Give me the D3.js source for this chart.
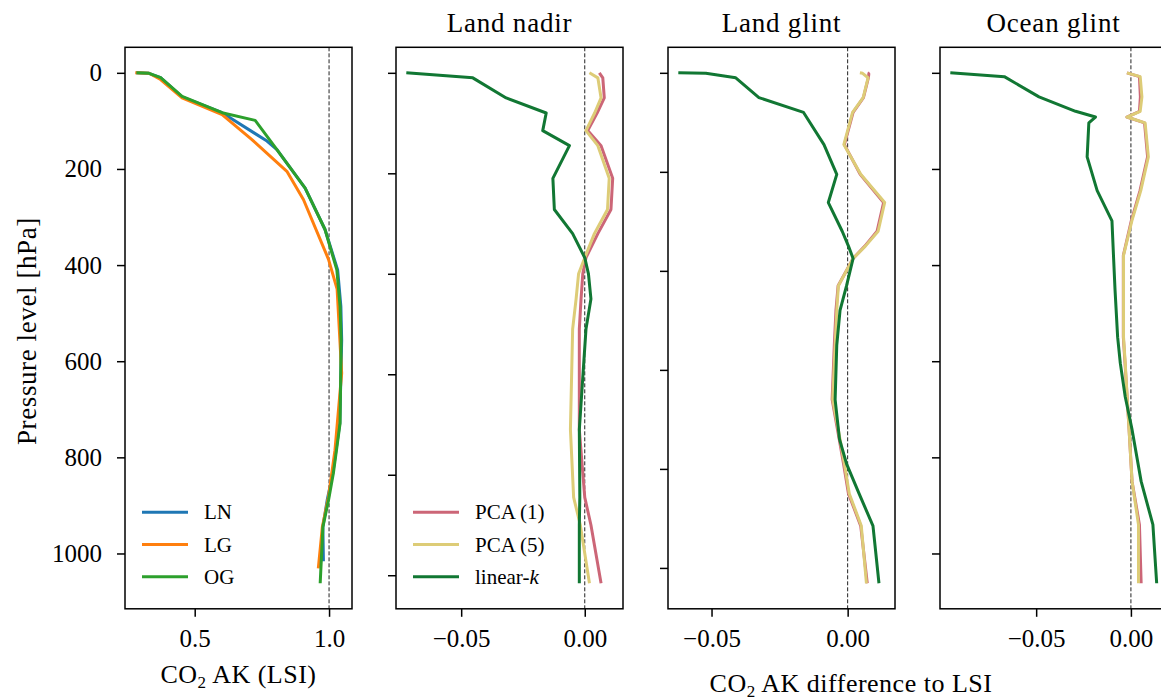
<!DOCTYPE html>
<html>
<head>
<meta charset="utf-8">
<title>CO2 averaging kernels</title>
<script src="https://d3js.org/d3.v7.min.js"></script>
<style>
  body { margin: 0; background: #fff; }
  svg text { font-family: "Liberation Serif", "DejaVu Serif", serif; fill: #000; }
</style>
</head>
<body>
<div id="chart"></div>
<script>
// ---- data ----
const pressureTicks = [0, 200, 400, 600, 800, 1000];
const akTicks = [0.5, 1.0];
const diffTicks = [-0.05, 0.00];
const panelTitles = ["Land nadir", "Land glint", "Ocean glint"];
const akNames = ["LN", "LG", "OG"];
const diffNames = ["PCA (1)", "PCA (5)", "linear-k"];

// surface pressure for each mode (hPa)
const surfaceLN = 1016, surfaceLG = 1031, surfaceOG = 1062;

// left panel: CO2 AK of the LSI reference
const akLevelsLN = [0, 1, 10, 50, 83, 142, 160, 240, 326, 410, 486, 556, 729, 833, 889, 945, 1016];
const akLN       = [0.281, 0.330, 0.373, 0.453, 0.602, 0.769, 0.806, 0.911, 0.985, 1.032, 1.044, 1.047, 1.040, 1.014, 0.993, 0.977, 0.979];
const akLevelsLG = [0, 1, 14, 52, 87, 139, 205, 264, 388, 450, 625, 785, 882, 945, 1031];
const akLG       = [0.279, 0.330, 0.373, 0.453, 0.602, 0.713, 0.843, 0.905, 0.998, 1.030, 1.047, 1.022, 0.998, 0.975, 0.960];
const akLevelsOG = [0, 1, 10, 49, 83, 99, 160, 240, 326, 410, 486, 556, 729, 833, 889, 945, 1062];
const akOG       = [0.283, 0.330, 0.373, 0.453, 0.602, 0.725, 0.806, 0.911, 0.985, 1.029, 1.041, 1.045, 1.041, 1.016, 0.998, 0.977, 0.967];

// difference to LSI, Land nadir
const levelsLN = [0, 10, 50, 80, 115, 145, 210, 272, 320, 368, 400, 450, 510, 710, 845, 900, 1016];
const pca1LN = [0.0059, 0.0073, 0.0079, 0.0050, 0.0012, 0.0066, 0.0113, 0.0106, 0.0053, 0.0005, -0.0008, -0.0015, -0.0022, -0.0022, 0.0000, 0.0025, 0.0066];
const pca5LN = [0.0019, 0.0053, 0.0066, 0.0040, 0.0005, 0.0053, 0.0099, 0.0092, 0.0039, 0.0000, -0.0025, -0.0035, -0.0049, -0.0058, -0.0045, -0.0018, 0.0019];
const linkLN = [-0.0722, -0.0453, -0.0318, -0.0156, -0.0170, -0.0062, -0.0129, -0.0123, -0.0049, 0.0000, 0.0015, 0.0025, 0.0005, -0.0022, -0.0020, -0.0022, -0.0022];

// Land glint
const levelsLG = [0, 1, 10, 50, 80, 145, 205, 262, 320, 350, 375, 430, 480, 550, 660, 740, 790, 850, 915, 1031];
const pca1LG = [0.0081, 0.0078, 0.0076, 0.0058, 0.0020, -0.0012, 0.0046, 0.0132, 0.0108, 0.0063, 0.0020, -0.0035, -0.0043, -0.0049, -0.0057, -0.0031, -0.0015, 0.0003, 0.0048, 0.0072];
const pca5LG = [0.0045, 0.0055, 0.0075, 0.0057, 0.0018, -0.0014, 0.0048, 0.0136, 0.0112, 0.0065, 0.0020, -0.0034, -0.0040, -0.0046, -0.0055, -0.0028, -0.0012, 0.0006, 0.0050, 0.0069];
const linkLG = [-0.0622, -0.0521, -0.0411, -0.0326, -0.0162, -0.0087, -0.0040, -0.0071, -0.0020, 0.0003, 0.0020, -0.0004, -0.0028, -0.0040, -0.0046, -0.0030, -0.0004, 0.0042, 0.0093, 0.0115];

// Ocean glint
const levelsOG = [0, 8, 50, 80, 92, 104, 175, 245, 308, 380, 450, 550, 604, 674, 740, 850, 940, 1062];
const pca1OG = [-0.0021, 0.0045, 0.0050, 0.0045, -0.0021, 0.0072, 0.0088, 0.0048, 0.0002, -0.0040, -0.0040, -0.0040, -0.0031, -0.0020, -0.0010, 0.0006, 0.0045, 0.0054];
const pca5OG = [-0.0021, 0.0049, 0.0058, 0.0049, -0.0021, 0.0075, 0.0092, 0.0052, 0.0005, -0.0039, -0.0039, -0.0039, -0.0030, -0.0020, -0.0010, 0.0006, 0.0040, 0.0040];
const linkOG = [-0.0953, -0.0668, -0.0485, -0.0292, -0.0187, -0.0222, -0.0231, -0.0178, -0.0100, -0.0092, -0.0084, -0.0070, -0.0056, -0.0030, 0.0005, 0.0054, 0.0116, 0.0136];

// ---- layout ----
const W = 1161, H = 700;
const frameTop = 47.3, frameBottom = 608.8, pw = 227;
const lefts = [125, 396, 668, 940];
const akColors = ["#1f77b4", "#ff7f0e", "#2ca02c"];
const diffColors = ["#cc6677", "#ddcc77", "#117733"];
const lw = 3;

const svg = d3.select("#chart").append("svg")
  .attr("width", W).attr("height", H)
  .style("display", "block");

function zip(levels, vals) {
  return levels.map((p, i) => [p, vals[i]]);
}

// matplotlib-like 5% margins
function padded(lo, hi) {
  const m = (hi - lo) * 0.05;
  return [lo - m, hi + m];
}

function drawPanel(i, series, colors, xTicks, xFmt, surface, refX, showYLabels) {
  const left = lefts[i];
  const g = svg.append("g");
  const all = series.flatMap(s => s.map(d => d[1]));
  const x = d3.scaleLinear().domain(padded(d3.min(all), d3.max(all))).range([left, left + pw]);
  const y = d3.scaleLinear().domain(padded(0, surface)).range([frameTop, frameBottom]);

  // dashed reference
  g.append("line")
    .attr("x1", x(refX)).attr("x2", x(refX))
    .attr("y1", frameTop).attr("y2", frameBottom)
    .attr("stroke", "#222").attr("stroke-width", 1)
    .attr("stroke-dasharray", "4,2");

  const line = d3.line().x(d => x(d[1])).y(d => y(d[0]));
  series.forEach((s, k) => {
    g.append("path").datum(s)
      .attr("d", line)
      .attr("fill", "none")
      .attr("stroke", colors[k])
      .attr("stroke-width", lw)
      .attr("stroke-linejoin", "round");
  });

  // axes
  const yAxis = d3.axisLeft(y).tickValues(pressureTicks).tickSize(8).tickPadding(15)
    .tickFormat(showYLabels ? d3.format("d") : "");
  const ya = g.append("g").attr("transform", "translate(" + left + ",0)").call(yAxis);
  const xAxis = d3.axisBottom(x).tickValues(xTicks).tickSize(8).tickPadding(12).tickFormat(d3.format(xFmt));
  const xa = g.append("g").attr("transform", "translate(0," + frameBottom + ")").call(xAxis);
  [ya, xa].forEach(a => {
    a.select(".domain").remove();
    a.selectAll(".tick line").attr("stroke", "#000").attr("stroke-width", 1.5);
    a.selectAll(".tick text").style("font-size", "25px").attr("fill", "#000");
  });

  // frame
  g.append("rect")
    .attr("x", left).attr("y", frameTop)
    .attr("width", pw).attr("height", frameBottom - frameTop)
    .attr("fill", "none").attr("stroke", "#000").attr("stroke-width", 1.5);

  return g;
}

function legend(g, i, names, colors) {
  const left = lefts[i];
  names.forEach((n, k) => {
    const ly = 512.3 + k * 32.2;
    g.append("line")
      .attr("x1", left + 17).attr("x2", left + 63)
      .attr("y1", ly).attr("y2", ly)
      .attr("stroke", colors[k]).attr("stroke-width", lw);
    const t = g.append("text")
      .attr("x", left + 79).attr("y", ly + 7)
      .style("font-size", "21px");
    if (n === "linear-k") {
      t.append("tspan").text("linear-");
      t.append("tspan").style("font-style", "italic").text("k");
    } else {
      t.text(n);
    }
  });
}

// panel 1: AK
const g0 = drawPanel(0,
  [zip(akLevelsLN, akLN), zip(akLevelsLG, akLG), zip(akLevelsOG, akOG)],
  akColors, akTicks, ".1f", Math.max(surfaceLN, surfaceLG, surfaceOG), 1.0, true);
legend(g0, 0, akNames, akColors);

// difference panels
const diffData = [
  [levelsLN, pca1LN, pca5LN, linkLN, surfaceLN],
  [levelsLG, pca1LG, pca5LG, linkLG, surfaceLG],
  [levelsOG, pca1OG, pca5OG, linkOG, surfaceOG]
];
diffData.forEach((d, j) => {
  const g = drawPanel(j + 1,
    [zip(d[0], d[1]), zip(d[0], d[2]), zip(d[0], d[3])],
    diffColors, diffTicks, ".2f", d[4], 0, false);
  g.append("text")
    .attr("x", lefts[j + 1] + pw / 2).attr("y", 32)
    .attr("text-anchor", "middle")
    .style("font-size", "27px")
    .style("letter-spacing", "0.8px")
    .text(panelTitles[j]);
  if (j === 0) legend(g, 1, diffNames, diffColors);
});

// axis labels
svg.append("text")
  .attr("transform", "translate(36," + ((frameTop + frameBottom) / 2 + 3) + ") rotate(-90)")
  .attr("text-anchor", "middle")
  .style("font-size", "27px")
  .style("letter-spacing", "0.6px")
  .text("Pressure level [hPa]");

function co2Label(xc, yb, rest) {
  const t = svg.append("text")
    .attr("x", xc).attr("y", yb)
    .attr("text-anchor", "middle")
    .style("font-size", "26px")
    .style("letter-spacing", "0.5px");
  t.append("tspan").text("CO");
  t.append("tspan").attr("dy", 5).style("font-size", "17px").text("2");
  t.append("tspan").attr("dy", -5).text(rest);
}
co2Label(lefts[0] + pw / 2, 683, " AK (LSI)");
co2Label(851, 692, " AK difference to LSI");
</script>
</body>
</html>
